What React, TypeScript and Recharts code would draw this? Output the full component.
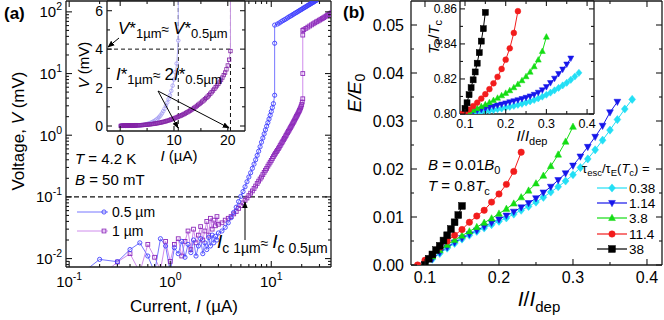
import React from "react";
import { LineChart, Line, XAxis, YAxis, ReferenceLine } from "recharts";

const FONT = "Arial, 'Liberation Sans', Helvetica, sans-serif";
const AXIS = "#1a1a1a";

// ---------- panel (a): V(I) of the two strips, current in uA, voltage in mV
const current05um = [
  0.1, 0.2, 0.3, 0.4, 0.5, 0.6, 0.7, 0.8, 0.9, 1.0,
  1.1, 1.2, 1.3, 1.4, 1.5, 1.6, 1.7, 1.8, 1.9, 2.0,
  2.1, 2.2, 2.3, 2.4, 2.5, 2.6, 2.7, 2.8, 2.9, 3.0,
  3.25, 3.5, 3.75, 4.0, 4.25, 4.5, 4.75, 5.0, 5.25, 5.5,
  5.75, 6.0, 6.25, 6.5, 6.75, 7.0, 7.25, 7.5, 7.75, 8.0,
  8.25, 8.5, 8.75, 9.0, 9.25, 9.5, 9.75, 10.0, 10.25, 10.5,
  10.8, 10.8, 10.8,
  11.5, 12, 12.5, 13, 13.5, 14, 14.5, 15, 15.5, 16,
  16.5, 17, 17.5, 18, 18.5, 19, 19.5, 20, 20.5, 21,
  21.5, 22, 22.5, 23, 23.5, 24, 24.5, 25, 25.5, 26,
  26.5, 27, 27.5, 28,
];
const voltage05um = [
  0.004, 0.0097, 0.0089, 0.014, 0.018, 0.011, 0.006, 0.021, 0.016, 0.006,
  0.015, 0.012, 0.019, 0.0105, 0.017, 0.0125, 0.02, 0.011, 0.016, 0.021,
  0.012, 0.018, 0.014, 0.022, 0.016, 0.024, 0.018, 0.023, 0.02, 0.026,
  0.028, 0.032, 0.038, 0.046, 0.056, 0.068, 0.084, 0.102, 0.122, 0.146,
  0.176, 0.21, 0.246, 0.29, 0.34, 0.4, 0.47, 0.55, 0.65, 0.77,
  0.9, 1.05, 1.22, 1.4, 1.6, 1.83, 2.1, 2.42, 2.8, 3.25,
  4.45, 31, 61,
  63.5, 66, 69, 72, 74.5, 77, 80, 83, 85.5, 88,
  91, 94, 96.5, 99, 102, 105, 107.5, 110, 113, 116,
  118.5, 121, 124, 127, 129.5, 132, 135, 138, 140.5, 143,
  146, 149, 151.5, 154,
];
const current1um = [
  0.1, 0.2, 0.3, 0.4, 0.5, 0.6, 0.7, 0.8, 0.9, 1.0,
  1.1, 1.2, 1.3, 1.4, 1.5, 1.6, 1.7, 1.8, 1.9, 2.0,
  2.1, 2.2, 2.3, 2.4, 2.5, 2.6, 2.7, 2.8, 2.9, 3.0,
  3.25, 3.5, 3.75, 4.0, 4.25, 4.5, 4.75, 5.0,
  5.25, 5.5, 5.75, 6.0, 6.25, 6.5, 6.75, 7.0,
  7.25, 7.5, 7.75, 8.0, 8.25, 8.5, 8.75, 9.0,
  9.25, 9.5, 9.75, 10.0, 10.25, 10.5, 10.75, 11.0,
  11.25, 11.5, 11.75, 12.0, 12.25, 12.5, 12.75, 13.0,
  13.25, 13.5, 13.75, 14.0, 14.25, 14.5, 14.75, 15.0,
  15.25, 15.5, 15.75, 16.0, 16.25, 16.5, 16.75, 17.0,
  17.25, 17.5, 17.75, 18.0, 18.25, 18.5, 18.75, 19.0,
  19.25, 19.5, 19.75, 20.0, 20.25,
  20.5, 20.5, 20.5, 20.5,
  21, 22, 23, 24, 25, 26, 27, 28, 29, 30,
  31, 32, 33, 34, 35, 36, 37, 38, 39, 40,
];
const voltage1um = [
  0.004, 0.005, 0.0088, 0.012, 0.006, 0.017, 0.0105, 0.0065, 0.019, 0.009,
  0.017, 0.021, 0.011, 0.019, 0.028, 0.014, 0.03, 0.018, 0.024, 0.033,
  0.02, 0.028, 0.04, 0.024, 0.045, 0.03, 0.042, 0.034, 0.048, 0.036,
  0.038, 0.042, 0.045, 0.048, 0.053, 0.058, 0.065, 0.072,
  0.08, 0.088, 0.096, 0.105, 0.115, 0.125, 0.137, 0.15,
  0.165, 0.18, 0.195, 0.21, 0.23, 0.25, 0.27, 0.29,
  0.315, 0.34, 0.365, 0.39, 0.42, 0.45, 0.48, 0.51,
  0.54, 0.57, 0.605, 0.64, 0.68, 0.72, 0.76, 0.8,
  0.845, 0.89, 0.94, 0.99, 1.045, 1.1, 1.155, 1.21,
  1.27, 1.33, 1.395, 1.46, 1.53, 1.6, 1.68, 1.76,
  1.845, 1.93, 2.02, 2.11, 2.2, 2.3, 2.41, 2.52,
  2.65, 2.78, 2.95, 3.15, 3.45,
  3.9, 10, 42, 50,
  51.5, 54, 56.5, 59, 61.5, 64, 66.5, 69, 71, 73.5,
  76, 78, 80.5, 83, 85.5, 88, 90.5, 93, 95.5, 98,
];

const currentTicks = [0.1, 0.2, 0.3, 0.4, 0.5, 0.6, 0.7, 0.8, 0.9, 1, 2, 3, 4, 5, 6, 7, 8, 9, 10, 20, 30];
const voltageTicks = [
  0.008, 0.009, 0.01, 0.02, 0.03, 0.04, 0.05, 0.06, 0.07, 0.08, 0.09,
  0.1, 0.2, 0.3, 0.4, 0.5, 0.6, 0.7, 0.8, 0.9, 1, 2, 3, 4, 5, 6, 7, 8, 9,
  10, 20, 30, 40, 50, 60, 70, 80, 90, 100,
];
const insetCurrentTicks = [0, 5, 10, 15, 20];
const insetVoltageTicks = [0, 1, 2, 3, 4, 5, 6];

// ---------- panel (b): E/E0 and Te/Tc vs I/Idep for five tau_esc/tau_E(Tc)
const ratioCyan = [0.1, 0.11, 0.12, 0.13, 0.14, 0.15, 0.16, 0.17, 0.18, 0.19, 0.2, 0.21, 0.22, 0.23, 0.24, 0.25, 0.26, 0.27, 0.28, 0.29, 0.3, 0.31, 0.32, 0.33, 0.34, 0.35, 0.36, 0.37, 0.38];
const energyCyan = [0, 0.0012, 0.0024, 0.0035, 0.0045, 0.0054, 0.0062, 0.007, 0.0077, 0.0084, 0.0091, 0.0098, 0.0106, 0.0114, 0.0122, 0.0131, 0.0141, 0.0152, 0.0163, 0.0175, 0.0188, 0.0203, 0.0221, 0.024, 0.026, 0.0281, 0.0303, 0.0325, 0.0345];
const tempCyan = [0.8001, 0.8003, 0.8006, 0.8009, 0.8012, 0.8015, 0.8019, 0.8023, 0.8027, 0.8031, 0.8036, 0.8041, 0.8046, 0.8052, 0.8058, 0.8065, 0.8072, 0.808, 0.8089, 0.8099, 0.811, 0.8122, 0.8135, 0.8149, 0.8163, 0.8178, 0.8195, 0.8214, 0.8235];

const ratioBlue = [0.1, 0.11, 0.12, 0.13, 0.14, 0.15, 0.16, 0.17, 0.18, 0.19, 0.2, 0.21, 0.22, 0.23, 0.24, 0.25, 0.26, 0.27, 0.28, 0.29, 0.3, 0.31, 0.32, 0.33, 0.34, 0.35, 0.36];
const energyBlue = [0.0001, 0.0013, 0.0026, 0.0037, 0.0047, 0.0056, 0.0064, 0.0072, 0.008, 0.0088, 0.0095, 0.0103, 0.0111, 0.012, 0.0129, 0.0139, 0.0151, 0.0163, 0.0177, 0.0191, 0.0207, 0.0226, 0.0246, 0.0267, 0.029, 0.0318, 0.034];
const tempBlue = [0.8002, 0.8008, 0.8014, 0.802, 0.8026, 0.8032, 0.8038, 0.8044, 0.805, 0.8056, 0.8062, 0.8068, 0.8074, 0.808, 0.8087, 0.8094, 0.8102, 0.8111, 0.8123, 0.8137, 0.8155, 0.8178, 0.8203, 0.823, 0.8255, 0.8284, 0.8318];

const ratioGreen = [0.1, 0.11, 0.12, 0.13, 0.14, 0.15, 0.16, 0.17, 0.18, 0.19, 0.2, 0.21, 0.22, 0.23, 0.24, 0.25, 0.26, 0.27, 0.28, 0.29, 0.3];
const energyGreen = [0.0005, 0.0018, 0.0031, 0.0042, 0.0052, 0.0061, 0.007, 0.0079, 0.0088, 0.0097, 0.0107, 0.0117, 0.0128, 0.0141, 0.0155, 0.017, 0.0186, 0.0206, 0.023, 0.0257, 0.0288];
const tempGreen = [0.8005, 0.8013, 0.8022, 0.8032, 0.8043, 0.8054, 0.8066, 0.8078, 0.8091, 0.8105, 0.8119, 0.8134, 0.8151, 0.817, 0.8191, 0.8214, 0.824, 0.8271, 0.8309, 0.8358, 0.844];

const ratioRed = [0.09, 0.1, 0.11, 0.12, 0.13, 0.14, 0.15, 0.16, 0.17, 0.18, 0.19, 0.2, 0.21, 0.22, 0.23];
const energyRed = [0, 0.001, 0.0022, 0.0037, 0.005, 0.0062, 0.0074, 0.0089, 0.0102, 0.0114, 0.0131, 0.0148, 0.0168, 0.0195, 0.0235];
const tempRed = [0.8, 0.801, 0.8025, 0.8045, 0.8065, 0.8088, 0.8113, 0.8142, 0.8175, 0.8212, 0.8257, 0.831, 0.8375, 0.8463, 0.8587];

const ratioBlack = [0.1, 0.105, 0.11, 0.115, 0.12, 0.125, 0.13, 0.135, 0.14, 0.145, 0.15];
const energyBlack = [0, 0.0013, 0.0022, 0.0031, 0.004, 0.0051, 0.0062, 0.0075, 0.0089, 0.0104, 0.0123];
const tempBlack = [0.8032, 0.8064, 0.811, 0.815, 0.8195, 0.824, 0.829, 0.835, 0.8416, 0.8487, 0.858];

const tauLabels = ["0.38", "1.14", "3.8", "11.4", "38"];
const ratioTicks = [0.1, 0.15, 0.2, 0.25, 0.3, 0.35, 0.4];
const energyTicks = [0, 0.005, 0.01, 0.015, 0.02, 0.025, 0.03, 0.035, 0.04, 0.045, 0.05];
const tempTicks = [0.8, 0.81, 0.82, 0.83, 0.84, 0.85, 0.86];

type Pt = { x: number; y: number };
const zip = (xs: number[], ys: number[]): Pt[] => xs.map((x, i) => ({ x, y: ys[i] }));

type Kind = "circle" | "square" | "diamond" | "up" | "down";

function Marker({ kind, cx, cy, size, color, fill, sw = 1 }: { kind: Kind; cx: number; cy: number; size: number; color: string; fill: string; sw?: number }) {
  if (!Number.isFinite(cx) || !Number.isFinite(cy)) return null;
  const s = size;
  if (kind === "circle") return <circle cx={cx} cy={cy} r={s} fill={fill} stroke={color} strokeWidth={sw} />;
  if (kind === "square") return <rect x={cx - s} y={cy - s} width={2 * s} height={2 * s} fill={fill} stroke={color} strokeWidth={sw} />;
  let d = "";
  if (kind === "diamond") d = `M${cx},${cy - s * 1.2}L${cx + s},${cy}L${cx},${cy + s * 1.2}L${cx - s},${cy}Z`;
  if (kind === "up") d = `M${cx},${cy - s * 1.1}L${cx + s},${cy + s * 0.75}L${cx - s},${cy + s * 0.75}Z`;
  if (kind === "down") d = `M${cx},${cy + s * 1.1}L${cx + s},${cy - s * 0.75}L${cx - s},${cy - s * 0.75}Z`;
  return <path d={d} fill={fill} stroke={color} strokeWidth={sw} />;
}

const dotOf = (kind: Kind, color: string, size: number, fill: string, sw = 1) => (p: any) => (
  <Marker key={`${kind}-${p.index}`} kind={kind} cx={p.cx} cy={p.cy} size={size} color={color} fill={fill} sw={sw} />
);

type Side = "bottom" | "top" | "left" | "right";
function makeTick(side: Side, isMajor: (v: number) => boolean, opts: { len?: number; minor?: number; format?: (v: number) => React.ReactNode; fontSize?: number; gap?: number } = {}) {
  const { len = 6, minor = 3, format, fontSize = 14, gap = 4 } = opts;
  return (props: any) => {
    const { x, y, payload } = props;
    const v = payload.value as number;
    const major = isMajor(v);
    const l = major ? len : minor;
    let tick: React.ReactNode = null;
    let label: React.ReactNode = null;
    if (side === "bottom") {
      tick = <line x1={x} x2={x} y1={y} y2={y - l} />;
      if (format && major)
        label = <text x={x} y={y + gap} textAnchor="middle" fontSize={fontSize} stroke="none" fill="#000">{format(v)}</text>;
    } else if (side === "top") {
      tick = <line x1={x} x2={x} y1={y} y2={y + l} />;
    } else if (side === "left") {
      tick = <line x1={x} x2={x + l} y1={y} y2={y} />;
      if (format && major)
        label = <text x={x - gap} y={y + fontSize * 0.36} textAnchor="end" fontSize={fontSize} stroke="none" fill="#000">{format(v)}</text>;
    } else {
      tick = <line x1={x} x2={x - l} y1={y} y2={y} />;
    }
    return <g stroke={AXIS} strokeWidth={1.1}>{tick}{label}</g>;
  };
}

const isDecade = (v: number) => Math.abs(Math.log10(v) - Math.round(Math.log10(v))) < 1e-9;
const every = (step: number) => (v: number) => Math.abs(v / step - Math.round(v / step)) < 1e-6;
const powerLabel = (v: number) => (
  <>
    <tspan>10</tspan>
    <tspan dy={-7} fontSize={10.5}>{Math.round(Math.log10(v))}</tspan>
  </>
);
const axisLine = { stroke: AXIS, strokeWidth: 1.3 };

const blueA = { line: "#7676ff", mark: "#4040ff" };
const purpleA = { line: "#cf8cec", mark: "#8e2cbb" };
const blueInset = { line: "#b9b5fa", mark: "#a39cf3" };
const purpleInset = { line: "#c99ae2", mark: "#8424a6" };
const colorsB = ["#22dff5", "#1616ea", "#14dd14", "#f21c1c", "#000000"];
const kindsB: Kind[] = ["diamond", "down", "up", "circle", "square"];

// axes get a 1px box (zero-sized axes are not drawn), margins are reduced by that pixel
function PanelAMain() {
  return (
    <LineChart width={340} height={320} margin={{ top: 0, right: 8, bottom: 52, left: 65 }}>
      <XAxis xAxisId="b" dataKey="x" type="number" scale="log" domain={[0.093, 39]} allowDataOverflow ticks={currentTicks} interval={0}
        tickSize={0} tickMargin={0} tickLine={false} height={1} axisLine={axisLine}
        tick={makeTick("bottom", isDecade, { format: powerLabel, fontSize: 15, gap: 20 })} />
      <XAxis xAxisId="t" orientation="top" dataKey="x" type="number" scale="log" domain={[0.093, 39]} allowDataOverflow ticks={currentTicks} interval={0}
        tickSize={0} tickMargin={0} tickLine={false} height={1} axisLine={axisLine} tick={makeTick("top", isDecade)} />
      <YAxis yAxisId="l" type="number" scale="log" domain={[0.0073, 150]} allowDataOverflow ticks={voltageTicks} interval={0}
        tickSize={0} tickMargin={0} tickLine={false} width={1} axisLine={axisLine}
        tick={makeTick("left", isDecade, { format: powerLabel, fontSize: 15, gap: 4 })} />
      <YAxis yAxisId="r" orientation="right" type="number" scale="log" domain={[0.0073, 150]} allowDataOverflow ticks={voltageTicks} interval={0}
        tickSize={0} tickMargin={0} tickLine={false} width={1} axisLine={axisLine} tick={makeTick("right", isDecade)} />
      <ReferenceLine xAxisId="b" yAxisId="l" y={0.1} stroke="#111" strokeDasharray="5 3" strokeWidth={1.1} />
      <Line xAxisId="b" yAxisId="l" data={zip(current1um, voltage1um)} dataKey="y" type="linear" stroke={purpleA.line} strokeWidth={1}
        dot={dotOf("square", purpleA.mark, 1.9, "none", 0.9)} activeDot={false} isAnimationActive={false} />
      <Line xAxisId="b" yAxisId="l" data={zip(current05um, voltage05um)} dataKey="y" type="linear" stroke={blueA.line} strokeWidth={1}
        dot={dotOf("circle", blueA.mark, 2.1, "none", 0.9)} activeDot={false} isAnimationActive={false} />
    </LineChart>
  );
}

function PanelAInset() {
  const dom: [number, number] = [-2.45, 23.2];
  const vdom: [number, number] = [-0.26, 6.505];
  return (
    <LineChart width={180} height={170} margin={{ top: 0, right: 14, bottom: 38, left: 26 }}>
      <XAxis xAxisId="b" dataKey="x" type="number" domain={dom} allowDataOverflow ticks={insetCurrentTicks} interval={0}
        tickSize={0} tickMargin={0} tickLine={false} height={1} axisLine={axisLine}
        tick={makeTick("bottom", every(10), { len: 5, minor: 3, format: (v) => String(v), fontSize: 14, gap: 14 })} />
      <XAxis xAxisId="t" orientation="top" dataKey="x" type="number" domain={dom} allowDataOverflow ticks={insetCurrentTicks} interval={0}
        tickSize={0} tickMargin={0} tickLine={false} height={1} axisLine={axisLine} tick={makeTick("top", every(10), { len: 5 })} />
      <YAxis yAxisId="l" type="number" domain={vdom} allowDataOverflow ticks={insetVoltageTicks} interval={0}
        tickSize={0} tickMargin={0} tickLine={false} width={1} axisLine={axisLine}
        tick={makeTick("left", every(2), { len: 5, minor: 3, format: (v) => String(v), fontSize: 14, gap: 4 })} />
      <YAxis yAxisId="r" orientation="right" type="number" domain={vdom} allowDataOverflow ticks={insetVoltageTicks} interval={0}
        tickSize={0} tickMargin={0} tickLine={false} width={1} axisLine={axisLine} tick={makeTick("right", every(2), { len: 5 })} />
      <ReferenceLine xAxisId="b" yAxisId="l" segment={[{ x: dom[0], y: 4 }, { x: 20.5, y: 4 }]} stroke="#111" strokeDasharray="4 3" />
      <ReferenceLine xAxisId="b" yAxisId="l" x={10.8} stroke="#111" strokeDasharray="4 3" />
      <ReferenceLine xAxisId="b" yAxisId="l" x={20.5} stroke="#111" strokeDasharray="4 3" />
      <Line xAxisId="b" yAxisId="l" data={zip(current05um, voltage05um)} dataKey="y" type="linear" stroke={blueInset.line} strokeWidth={1}
        dot={dotOf("circle", blueInset.mark, 1.8, "none", 0.8)} activeDot={false} isAnimationActive={false} />
      <Line xAxisId="b" yAxisId="l" data={zip(current1um, voltage1um)} dataKey="y" type="linear" stroke={purpleInset.line} strokeWidth={1}
        dot={dotOf("square", purpleInset.mark, 1.7, "none", 0.8)} activeDot={false} isAnimationActive={false} />
    </LineChart>
  );
}

const energySeries = [zip(ratioCyan, energyCyan), zip(ratioBlue, energyBlue), zip(ratioGreen, energyGreen), zip(ratioRed, energyRed), zip(ratioBlack, energyBlack)];
const tempSeries = [zip(ratioCyan, tempCyan), zip(ratioBlue, tempBlue), zip(ratioGreen, tempGreen), zip(ratioRed, tempRed), zip(ratioBlack, tempBlack)];

function PanelBMain() {
  const dom: [number, number] = [0.0811, 0.4203];
  const edom: [number, number] = [0, 0.055];
  return (
    <LineChart width={324} height={320} margin={{ top: 0, right: 1, bottom: 54, left: 70 }}>
      <XAxis xAxisId="b" dataKey="x" type="number" domain={dom} allowDataOverflow ticks={ratioTicks} interval={0}
        tickSize={0} tickMargin={0} tickLine={false} height={1} axisLine={axisLine}
        tick={makeTick("bottom", every(0.1), { format: (v) => v.toFixed(1), fontSize: 16, gap: 18 })} />
      <XAxis xAxisId="t" orientation="top" dataKey="x" type="number" domain={dom} allowDataOverflow ticks={ratioTicks} interval={0}
        tickSize={0} tickMargin={0} tickLine={false} height={1} axisLine={axisLine} tick={makeTick("top", every(0.1))} />
      <YAxis yAxisId="l" type="number" domain={edom} allowDataOverflow ticks={energyTicks} interval={0}
        tickSize={0} tickMargin={0} tickLine={false} width={1} axisLine={axisLine}
        tick={makeTick("left", every(0.01), { format: (v) => v.toFixed(2), fontSize: 16, gap: 7 })} />
      <YAxis yAxisId="r" orientation="right" type="number" domain={edom} allowDataOverflow ticks={energyTicks} interval={0}
        tickSize={0} tickMargin={0} tickLine={false} width={1} axisLine={axisLine} tick={makeTick("right", every(0.01))} />
      {energySeries.map((d, i) => (
        <Line key={tauLabels[i]} xAxisId="b" yAxisId="l" data={d} dataKey="y" type="linear" stroke={colorsB[i]} strokeWidth={1}
          dot={dotOf(kindsB[i], colorsB[i], kindsB[i] === "circle" ? 3.2 : 3.4, colorsB[i], 0.5)} activeDot={false} isAnimationActive={false} />
      ))}
    </LineChart>
  );
}

function PanelBInset() {
  const dom: [number, number] = [0.0877, 0.417];
  const tdom: [number, number] = [0.8, 0.8645];
  return (
    <LineChart width={170} height={140} margin={{ top: 0, right: 5, bottom: 25, left: 29 }}>
      <XAxis xAxisId="b" dataKey="x" type="number" domain={dom} allowDataOverflow ticks={ratioTicks} interval={0}
        tickSize={0} tickMargin={0} tickLine={false} height={1} axisLine={axisLine}
        tick={makeTick("bottom", every(0.1), { len: 5, minor: 3, format: (v) => v.toFixed(1), fontSize: 12.5, gap: 14 })} />
      <XAxis xAxisId="t" orientation="top" dataKey="x" type="number" domain={dom} allowDataOverflow ticks={ratioTicks} interval={0}
        tickSize={0} tickMargin={0} tickLine={false} height={1} axisLine={axisLine} tick={makeTick("top", every(0.1), { len: 5 })} />
      <YAxis yAxisId="l" type="number" domain={tdom} allowDataOverflow ticks={tempTicks} interval={0}
        tickSize={0} tickMargin={0} tickLine={false} width={1} axisLine={axisLine}
        tick={makeTick("left", every(0.02), { len: 5, minor: 3, format: (v) => v.toFixed(2), fontSize: 12, gap: 3 })} />
      <YAxis yAxisId="r" orientation="right" type="number" domain={tdom} allowDataOverflow ticks={tempTicks} interval={0}
        tickSize={0} tickMargin={0} tickLine={false} width={1} axisLine={axisLine} tick={makeTick("right", every(0.02), { len: 5 })} />
      {tempSeries.map((d, i) => (
        <Line key={tauLabels[i]} xAxisId="b" yAxisId="l" data={d} dataKey="y" type="linear" stroke={colorsB[i]} strokeWidth={1}
          dot={dotOf(kindsB[i], colorsB[i], kindsB[i] === "circle" ? 2.9 : 3, colorsB[i], 0.5)} activeDot={false} isAnimationActive={false} />
      ))}
    </LineChart>
  );
}

function Overlay() {
  const legendY = [188, 203, 218, 234, 249];
  return (
    <svg width={664} height={320} style={{ position: "absolute", left: 0, top: 0, pointerEvents: "none" }}>
      <defs>
        <marker id="head" viewBox="0 0 10 10" refX="9" refY="5" markerWidth="7" markerHeight="7" orient="auto">
          <path d="M0,1 L10,5 L0,9 z" fill="#000" />
        </marker>
      </defs>
      <g fill="#000">
        <text x={4} y={19} fontSize={17} fontWeight="bold">(a)</text>
        <text x={343} y={18} fontSize={17} fontWeight="bold">(b)</text>

        {/* panel (a) titles */}
        <text transform="translate(24,131) rotate(-90)" textAnchor="middle" fontSize={17}>
          Voltage, <tspan fontStyle="italic">V</tspan> (mV)
        </text>
        <text x={184} y={312} textAnchor="middle" fontSize={17}>
          Current, <tspan fontStyle="italic">I</tspan> (µA)
        </text>
        <text transform="translate(89,65) rotate(-90)" textAnchor="middle" fontSize={15}>
          <tspan fontStyle="italic">V</tspan> (mV)
        </text>
        <text x={179} y={161} textAnchor="middle" fontSize={15}>
          <tspan fontStyle="italic">I</tspan> (µA)
        </text>

        {/* inset (a) notes */}
        <text x={118} y={34} fontSize={17}>
          <tspan fontStyle="italic">V</tspan>*<tspan fontSize={13} dy={4}>1µm</tspan>
          <tspan fontSize={14} dy={-4}>≈ </tspan>
          <tspan fontStyle="italic">V</tspan>*<tspan fontSize={13} dy={4}>0.5µm</tspan>
        </text>
        <text x={116} y={80} fontSize={17}>
          <tspan fontStyle="italic">I</tspan>*<tspan fontSize={13} dy={4}>1µm</tspan>
          <tspan fontSize={14} dy={-4}>≈ </tspan>2<tspan fontStyle="italic">I</tspan>*<tspan fontSize={13} dy={4}>0.5µm</tspan>
        </text>
        <line x1={119} y1={38} x2={108} y2={47} stroke="#000" strokeWidth={1} markerEnd="url(#head)" />
        <line x1={158} y1={91} x2={178} y2={128} stroke="#000" strokeWidth={1} markerEnd="url(#head)" />
        <line x1={158} y1={91} x2={229} y2={128} stroke="#000" strokeWidth={1} markerEnd="url(#head)" />

        {/* panel (a) notes */}
        <text x={75} y={164} fontSize={15}>
          <tspan fontStyle="italic">T</tspan> = 4.2 K
        </text>
        <text x={75} y={185} fontSize={15}>
          <tspan fontStyle="italic">B</tspan> = 50 mT
        </text>
        <line x1={77} x2={108} y1={212} y2={212} stroke={blueA.line} strokeWidth={1} />
        <Marker kind="circle" cx={104} cy={212} size={2.1} color={blueA.mark} fill="none" sw={0.9} />
        <text x={112} y={217} fontSize={14}>0.5 µm</text>
        <line x1={77} x2={108} y1={231} y2={231} stroke={purpleA.line} strokeWidth={1} />
        <Marker kind="square" cx={104} cy={231} size={1.9} color={purpleA.mark} fill="none" sw={0.9} />
        <text x={112} y={236} fontSize={14}>1 µm</text>
        <line x1={245} y1={240} x2={245} y2={202} stroke="#000" strokeWidth={1} markerEnd="url(#head)" />
        <text x={217} y={248} fontSize={19}>
          <tspan fontStyle="italic">I</tspan>
          <tspan fontSize={14} dy={5}>c 1µm</tspan>
          <tspan fontSize={14} dy={-5}>≈ </tspan>
          <tspan fontStyle="italic">I</tspan>
          <tspan fontSize={14} dy={5}>c 0.5µm</tspan>
        </text>

        {/* panel (b) titles */}
        <text transform="translate(361,93) rotate(-90)" textAnchor="middle" fontSize={19} fontStyle="italic">
          E/E<tspan fontSize={14} dy={4} fontStyle="normal">0</tspan>
        </text>
        <text x={539} y={306} textAnchor="middle" fontSize={21}>
          <tspan fontStyle="italic">I</tspan>/<tspan fontStyle="italic">I</tspan>
          <tspan fontSize={15} dy={6}>dep</tspan>
        </text>
        <text transform="translate(439,37) rotate(-90)" textAnchor="middle" fontSize={15}>
          <tspan fontStyle="italic">T</tspan><tspan fontSize={11} dy={3}>e</tspan>
          <tspan dy={-3}>/</tspan><tspan fontStyle="italic">T</tspan><tspan fontSize={11} dy={3}>c</tspan>
        </text>
        <text x={532} y={141} textAnchor="middle" fontSize={15}>
          <tspan fontStyle="italic">I</tspan>/<tspan fontStyle="italic">I</tspan>
          <tspan fontSize={11} dy={4}>dep</tspan>
        </text>

        {/* panel (b) notes */}
        <text x={428} y={170} fontSize={15}>
          <tspan fontStyle="italic">B</tspan> = 0.01<tspan fontStyle="italic">B</tspan>
          <tspan fontSize={11} dy={4}>0</tspan>
        </text>
        <text x={428} y={191} fontSize={15}>
          <tspan fontStyle="italic">T</tspan> = 0.8<tspan fontStyle="italic">T</tspan>
          <tspan fontSize={11} dy={4}>c</tspan>
        </text>
        <text x={582} y={173} fontSize={13}>
          τ<tspan fontSize={9.5} dy={3}>esc</tspan>
          <tspan dy={-3}>/τ</tspan><tspan fontSize={9.5} dy={3}>E</tspan>
          <tspan dy={-3}>(</tspan><tspan fontStyle="italic">T</tspan><tspan fontSize={9.5} dy={3}>c</tspan>
          <tspan dy={-3}>) =</tspan>
        </text>
        {tauLabels.map((t, i) => (
          <g key={t}>
            <line x1={597} x2={627} y1={legendY[i]} y2={legendY[i]} stroke={colorsB[i]} strokeWidth={1.2} />
            <Marker kind={kindsB[i]} cx={612} cy={legendY[i]} size={kindsB[i] === "circle" ? 3.2 : 3.4} color={colorsB[i]} fill={colorsB[i]} sw={0.5} />
            <text x={629} y={legendY[i] + 5} fontSize={13.5}>{t}</text>
          </g>
        ))}
      </g>
    </svg>
  );
}

export default function App() {
  return (
    <div style={{ position: "fixed", left: 0, top: 0, width: 664, height: 320, background: "#fff", fontFamily: FONT, overflow: "hidden" }}>
      <div style={{ position: "absolute", left: 0, top: 0 }}>
        <PanelAMain />
      </div>
      <div style={{ position: "absolute", left: 340, top: 0 }}>
        <PanelBMain />
      </div>
      <div style={{ position: "absolute", left: 107, top: 1, width: 138, height: 130, background: "#fff" }} />
      <div style={{ position: "absolute", left: 460, top: 1, width: 134, height: 113, background: "#fff" }} />
      <div style={{ position: "absolute", left: 80, top: 0 }}>
        <PanelAInset />
      </div>
      <div style={{ position: "absolute", left: 430, top: 0 }}>
        <PanelBInset />
      </div>
      <Overlay />
    </div>
  );
}
